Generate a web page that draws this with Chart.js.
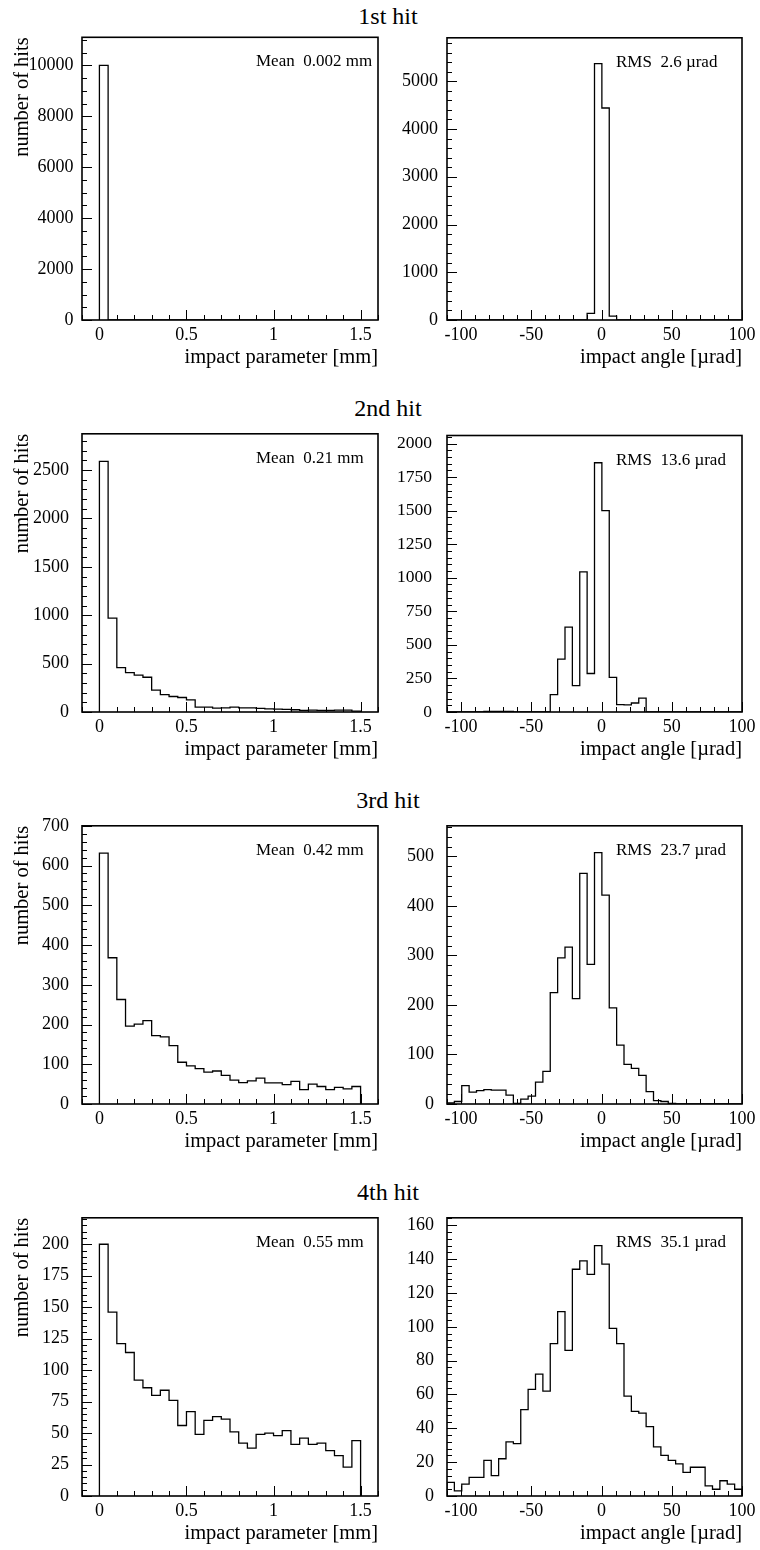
<!DOCTYPE html>
<html>
<head>
<meta charset="utf-8">
<title>Impact parameter and impact angle per hit</title>
<script src="https://cdn.jsdelivr.net/npm/chart.js@4.4.1/dist/chart.umd.min.js"></script>
<style>
  html, body { margin: 0; padding: 0; background: #fff; }
  body { position: relative; width: 760px; height: 1550px; overflow: hidden;
         font-family: 'Liberation Serif', 'Times New Roman', serif; color: #000; }
  canvas { position: absolute; }
  .hit-title { position: absolute; left: 288px; width: 200px; text-align: center;
               font-size: 24px; line-height: 24px; white-space: nowrap; }
</style>
</head>
<body>
<script>
// histogram binning
const paramBinStart = 0;
const paramBinWidth = 0.05;     // 30 bins, 0 .. 1.5 mm
const angleBinStart = -110;
const angleBinWidth = 5.25;     // 40 bins, -110 .. 100 urad

const hitTitles = ['1st hit', '2nd hit', '3rd hit', '4th hit'];
const meanLabels = ['Mean  0.002 mm', 'Mean  0.21 mm', 'Mean  0.42 mm', 'Mean  0.55 mm'];
const rmsLabels = ['RMS  2.6 µrad', 'RMS  13.6 µrad', 'RMS  23.7 µrad', 'RMS  35.1 µrad'];

const paramTicks = [0, 0.5, 1, 1.5];
const angleTicks = [-100, -50, 0, 50, 100];

// y ranges and tick steps, one entry per hit
const paramYMax = [11100, 2875, 700, 221];
const paramYStep = [2000, 500, 100, 25];
const paramYMinor = [500, 100, 20, 5];
const angleYMax = [5910, 2060, 562, 164.4];
const angleYStep = [1000, 250, 100, 20];
const angleYMinor = [200, 50, 20, 4];

// counts per bin - impact parameter
const param1 = [10000, 0, 0, 0, 0, 0, 0, 0, 0, 0, 0, 0, 0, 0, 0,
                0, 0, 0, 0, 0, 0, 0, 0, 0, 0, 0, 0, 0, 0, 0];
const param2 = [2590, 970, 459, 406, 382, 359, 226, 180, 160, 150, 126, 50, 50, 40, 43,
                50, 43, 43, 37, 33, 30, 27, 23, 17, 20, 17, 17, 20, 20, 10];
const param3 = [631, 368, 263, 196, 201, 210, 172, 169, 147, 105, 96, 89, 80, 83, 72,
                60, 54, 58, 65, 53, 53, 49, 57, 36, 50, 44, 36, 42, 38, 44];
const param4 = [200, 146, 121, 114, 92, 86, 80, 84, 76, 56, 67, 49, 60, 63, 61,
                51, 42, 38, 49, 50, 48, 52, 41, 46, 41, 42, 36, 32, 23, 44];

// counts per bin - impact angle
const angle1 = [0, 0, 0, 0, 0, 0, 0, 0, 0, 0, 0, 0, 0, 0, 0, 0, 0, 0, 0, 140,
                5370, 4440, 80, 0, 0, 0, 0, 0, 0, 0, 0, 0, 0, 0, 0, 0, 0, 0, 0, 0];
const angle2 = [0, 0, 0, 0, 0, 4, 4, 4, 4, 0, 0, 0, 0, 0, 130, 394, 633, 196, 1044, 287,
                1857, 1501, 258, 55, 53, 67, 103, 0, 0, 0, 0, 0, 0, 0, 0, 0, 0, 0, 0, 0];
const angle3 = [2, 5, 37, 24, 27, 29, 28, 28, 18, 1, 10, 16, 44, 66, 225, 295, 317, 213, 466, 282,
                508, 422, 194, 119, 80, 72, 58, 25, 7, 5, 1, 0, 0, 0, 0, 0, 0, 0, 0, 0];
const angle4 = [8, 3, 7, 11, 11, 21, 12, 22, 32, 31, 51, 63, 72, 62, 90, 109, 86, 134, 139, 131,
                148, 137, 99, 90, 59, 50, 49, 41, 29, 24, 21, 19, 14, 17, 17, 6, 4, 9, 7, 4];

const paramCounts = [param1, param2, param3, param4];
const angleCounts = [angle1, angle2, angle3, angle4];

Chart.defaults.font.family = "'Liberation Serif', 'Times New Roman', serif";
Chart.defaults.color = '#000';

// page layout
const FRAME_TOP = [32, 424, 816, 1208];
const FRAME_H = 288;
const PAD_TOP = 14;
const X_AXIS_H = 50;

// outline of a histogram: up at each bin edge, across the bin, down at the end
function histPoints(counts, start, width) {
  const pts = [{ x: start, y: 0 }];
  counts.forEach((c, i) => {
    pts.push({ x: start + i * width, y: c });
    pts.push({ x: start + (i + 1) * width, y: c });
  });
  pts.push({ x: start + counts.length * width, y: 0 });
  return pts;
}

function yTicks(max, step) {
  const t = [];
  for (let k = 0; k * step <= max + 1e-9; k++) t.push(k * step);
  return t;
}

// ROOT style frame: box, inward ticks, stats text
const rootAxes = {
  id: 'rootAxes',
  afterDatasetsDraw(chart, args, o) {
    const { ctx, chartArea: a } = chart;
    const xs = chart.scales.x, ys = chart.scales.y;
    ctx.save();
    ctx.strokeStyle = '#000';
    ctx.lineWidth = 1;
    ctx.beginPath();
    for (let k = Math.ceil(xs.min / o.xMinor - 1e-6); k * o.xMinor <= xs.max + 1e-9; k++) {
      const v = k * o.xMinor;
      const px = Math.round(xs.getPixelForValue(v)) + 0.5;
      const len = o.xMajor.some(m => Math.abs(m - v) < 1e-6) ? 10 : 5;
      ctx.moveTo(px, a.bottom);
      ctx.lineTo(px, a.bottom - len);
    }
    for (let k = 0; k * o.yMinor <= ys.max + 1e-9; k++) {
      const v = k * o.yMinor;
      const py = Math.round(ys.getPixelForValue(v)) + 0.5;
      const r = v / o.yStep;
      const len = Math.abs(r - Math.round(r)) < 1e-6 ? 10 : 5;
      ctx.moveTo(a.left, py);
      ctx.lineTo(a.left + len, py);
    }
    ctx.stroke();
    ctx.lineWidth = 1.6;
    ctx.strokeRect(a.left, a.top, a.right - a.left, a.bottom - a.top);
    ctx.fillStyle = '#000';
    ctx.font = "17px 'Liberation Serif', 'Times New Roman', serif";
    ctx.textAlign = 'left';
    ctx.textBaseline = 'alphabetic';
    ctx.fillText(o.stats, a.left + o.statsX, a.top + 29);
    ctx.restore();
  }
};

function makePanel(p) {
  const canvas = document.createElement('canvas');
  canvas.width = p.width;
  canvas.height = PAD_TOP + FRAME_H + X_AXIS_H;
  canvas.style.left = p.left + 'px';
  canvas.style.top = (p.frameTop - PAD_TOP) + 'px';
  document.body.appendChild(canvas);

  new Chart(canvas, {
    type: 'line',
    data: {
      datasets: [{
        data: histPoints(p.counts, p.binStart, p.binWidth),
        borderColor: '#000',
        borderWidth: 1.3,
        pointRadius: 0,
        fill: false,
        tension: 0
      }]
    },
    options: {
      responsive: false,
      animation: false,
      events: [],
      layout: { padding: { top: PAD_TOP, right: p.padRight, left: 0, bottom: 0 } },
      plugins: {
        legend: { display: false },
        tooltip: { enabled: false },
        rootAxes: {
          xMajor: p.xTicks, xMinor: p.xMinor,
          yStep: p.yStep, yMinor: p.yMinor,
          stats: p.stats, statsX: p.statsX
        }
      },
      scales: {
        x: {
          type: 'linear',
          min: p.xMin,
          max: p.xMax,
          grid: { display: false, drawTicks: false },
          border: { display: false },
          afterBuildTicks: s => { s.ticks = p.xTicks.map(v => ({ value: v })); },
          afterFit: s => { s.height = X_AXIS_H; },
          ticks: { padding: 4, autoSkip: false, maxRotation: 0, font: { size: 18 },
                   callback: v => String(v) },
          title: { display: true, text: p.xTitle, align: 'end',
                   font: { size: 20.5, lineHeight: 1 }, padding: { top: 0, bottom: 2.25 } }
        },
        y: {
          type: 'linear',
          min: 0,
          max: p.yMax,
          grid: { display: false, drawTicks: false },
          border: { display: false },
          afterBuildTicks: s => { s.ticks = yTicks(p.yMax, p.yStep).map(v => ({ value: v })); },
          afterFit: s => { s.width = p.yAxisW; },
          ticks: { padding: p.yPad, autoSkip: false, font: { size: p.yFont },
                   callback: v => String(v) },
          title: { display: !!p.yTitle, text: p.yTitle || '', align: 'end',
                   font: { size: 20.5, lineHeight: 1 }, padding: { top: 12.3, bottom: 0 } }
        }
      }
    },
    plugins: [rootAxes]
  });
}

// label gap and size of the y tick labels differ a little between panels
const paramYPad = [8.5, 13, 13, 13];
const angleYPad = [9, 15, 13, 13];
const angleYFont = [18, 17.5, 18, 18];

hitTitles.forEach((t, i) => {
  const div = document.createElement('div');
  div.className = 'hit-title';
  div.textContent = t;
  div.style.top = (FRAME_TOP[i] - 7.5 - 20.1) + 'px';
  document.body.appendChild(div);

  // impact parameter, left column
  makePanel({
    left: 0, width: 390, padRight: 12, yAxisW: 82,
    frameTop: FRAME_TOP[i],
    counts: paramCounts[i], binStart: paramBinStart, binWidth: paramBinWidth,
    xMin: -0.1, xMax: 1.6, xTicks: paramTicks, xMinor: 0.1,
    xTitle: 'impact parameter [mm]',
    yMax: paramYMax[i], yStep: paramYStep[i], yMinor: paramYMinor[i],
    yPad: paramYPad[i], yFont: 18,
    yTitle: 'number of hits',
    stats: meanLabels[i], statsX: 174
  });

  // impact angle, right column
  makePanel({
    left: 390, width: 370, padRight: 18, yAxisW: 57,
    frameTop: FRAME_TOP[i],
    counts: angleCounts[i], binStart: angleBinStart, binWidth: angleBinWidth,
    xMin: -110, xMax: 100, xTicks: angleTicks, xMinor: 10,
    xTitle: 'impact angle [µrad]',
    yMax: angleYMax[i], yStep: angleYStep[i], yMinor: angleYMinor[i],
    yPad: angleYPad[i], yFont: angleYFont[i],
    yTitle: null,
    stats: rmsLabels[i], statsX: 169
  });
});
</script>
</body>
</html>
